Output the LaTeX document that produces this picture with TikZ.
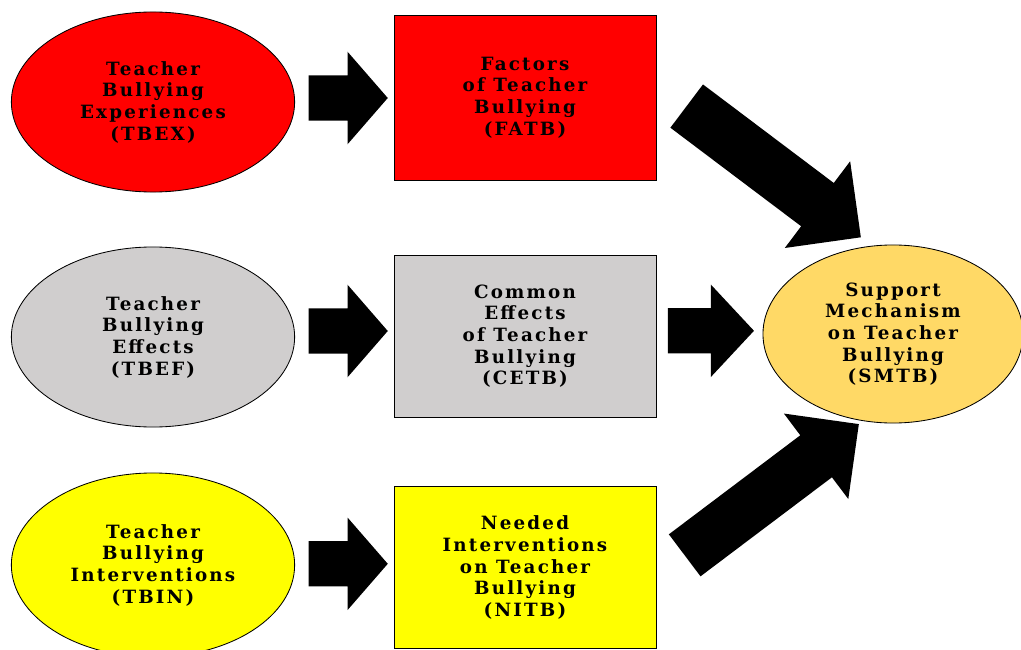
\documentclass[tikz,border=0pt]{standalone}
\usepackage{fontspec}
\newfontfamily\boxfont{DejaVu Serif}[LetterSpace=12]
\newcommand{\labelfont}{\boxfont\bfseries\fontsize{13}{15.4}\selectfont}
\usetikzlibrary{shapes.geometric, shapes.arrows}

\definecolor{tbred}{HTML}{FF0000}
\definecolor{tbgray}{HTML}{D0CECE}
\definecolor{tbyellow}{HTML}{FFFF00}
\definecolor{tbgold}{HTML}{FFD966}

\tikzset{
	topic/.style={draw, ellipse, line width=0.6pt, inner sep=0pt, align=center,
		minimum width=7.08cm, minimum height=4.5cm, font=\labelfont},
	factor/.style={draw, rectangle, line width=0.6pt, inner sep=0pt, align=center,
		minimum width=6.55cm, minimum height=4.1cm, font=\labelfont},
	flow/.style={single arrow, fill=black, anchor=tail, inner xsep=0pt, inner ysep=0.56cm,
		minimum height=1.98cm,
		single arrow head extend=0.59cm, single arrow tip angle=98},
	bigflow/.style={single arrow, fill=black, anchor=tail, inner xsep=0pt, inner ysep=0.67cm,
		minimum height=5.45cm,
		single arrow head extend=0.68cm, single arrow tip angle=90},
}

\begin{document}
\begin{tikzpicture}[x=0.025cm, y=-0.025cm]
	\useasboundingbox (0,0) rectangle (1021,650);

	% left column
	\node[topic, fill=tbred] (tbex) at (153,102) {Teacher\\Bullying\\Experiences\\(TBEX)};
	\node[topic, fill=tbgray] (tbef) at (153,337) {Teacher\\Bullying\\Effects\\(TBEF)};
	\node[topic, fill=tbyellow, minimum height=4.6cm] (tbin) at (153,565) {Teacher\\Bullying\\Interventions\\(TBIN)};

	% middle column
	\node[factor, fill=tbred, minimum height=4.125cm] (fatb) at (525,97.5) {Factors\\of Teacher\\Bullying\\(FATB)};
	\node[factor, fill=tbgray, minimum height=4.05cm] (cetb) at (525,336) {Common\\Effects\\of Teacher\\Bullying\\(CETB)};
	\node[factor, fill=tbyellow, minimum height=4.03cm] (nitb) at (525,567.5) {Needed\\Interventions\\on Teacher\\Bullying\\(NITB)};

	% right
	\node[topic, fill=tbgold, minimum width=6.5cm, minimum height=4.45cm] (smtb) at (893,334) {Support\\Mechanism\\on Teacher\\Bullying\\(SMTB)};

	% block arrows
	\node[flow] (a1) at ([xshift=0.33cm, yshift=0.1cm]tbex.east) {};
	\node[flow] (a2) at ([xshift=0.33cm, yshift=0.15cm]tbef.east) {};
	\node[flow] (a3) at ([xshift=0.33cm, yshift=0.03cm]tbin.east) {};
	\node[flow, minimum height=2.15cm, single arrow tip angle=94] (a5) at ([xshift=0.28cm, yshift=0.13cm]cetb.east) {};
	\node[bigflow, rotate=-37] (a4) at ([xshift=0.75cm, yshift=-0.21cm]fatb.east) {};
	\node[bigflow, inner ysep=0.65cm, rotate=37] (a6) at ([xshift=0.7cm, yshift=0.3cm]nitb.east) {};
\end{tikzpicture}
\end{document}
